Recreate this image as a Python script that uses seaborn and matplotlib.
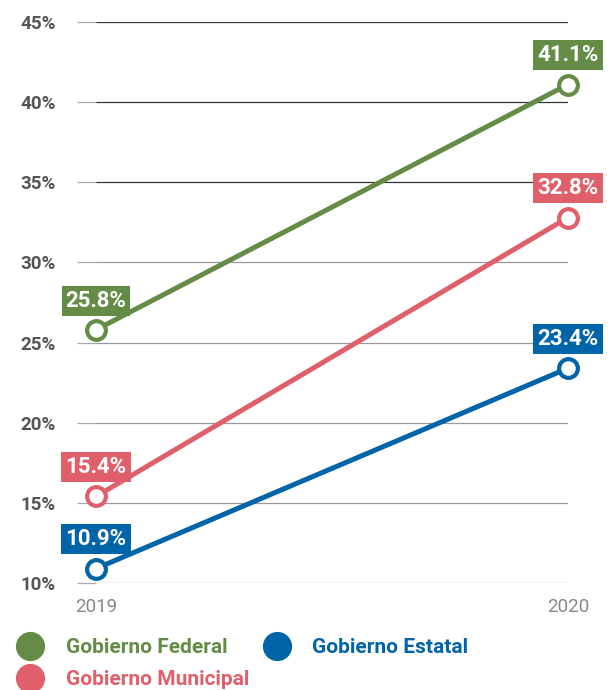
#!/usr/bin/env python3
'''
Line chart: share per level of government, 2019 vs 2020.
'''
import seaborn as sns
import matplotlib.pyplot as plt
import pandas as pd
from matplotlib.lines import Line2D

years = [2019, 2020]
series = ['Gobierno Federal', 'Gobierno Estatal', 'Gobierno Municipal']
federal = [25.8, 41.1]
estatal = [10.9, 23.4]
municipal = [15.4, 32.8]
colors = {'Gobierno Federal': '#648c46',
          'Gobierno Estatal': '#0064a8',
          'Gobierno Municipal': '#df5f6b'}
yticks = [10, 15, 20, 25, 30, 35, 40, 45]

sns.set_theme(style='white')
plt.rcParams['font.family'] = ['Roboto', 'DejaVu Sans']

df = pd.DataFrame({
    'year': years * 3,
    'value': federal + estatal + municipal,
    'serie': [s for s in series for _ in years],
})

fig = plt.figure(figsize=(6.13, 6.90), dpi=100)
ax = fig.add_axes([96 / 613, 1 - 583 / 690, (568 - 96) / 613, (583 - 22) / 690])

sns.lineplot(data=df, x='year', y='value', hue='serie', palette=colors,
             hue_order=['Gobierno Municipal', 'Gobierno Estatal', 'Gobierno Federal'],
             marker='o', markersize=13.5, markerfacecolor='white',
             markeredgewidth=3, linewidth=3.6, legend=False, ax=ax,
             clip_on=False, zorder=3)
for ln in ax.get_lines():
    ln.set_markeredgecolor(ln.get_color())

ax.set_xlim(2019, 2020)
ax.set_ylim(10, 45)
ax.set_xticks(years)
ax.set_xticklabels([str(y) for y in years])
ax.set_yticks(yticks)
ax.set_yticklabels([f'{v}%' for v in yticks])
ax.set_xlabel('')
ax.set_ylabel('')
for s in ax.spines.values():
    s.set_visible(False)

ax.grid(axis='y', color='#999999', linewidth=0.9)
for gl, v in zip(ax.get_ygridlines(), yticks):
    if v >= 35:
        gl.set_color('#333333')
ax.tick_params(axis='y', left=True, length=14, width=0.9, color='#aaaaaa',
               pad=15, labelsize=13.5, labelcolor='#555555')
ax.tick_params(axis='x', bottom=False, pad=5, labelsize=13.5,
               labelcolor='#888888')
for lbl in ax.get_yticklabels():
    lbl.set_fontweight('bold')

for name, vals in zip(series, [federal, estatal, municipal]):
    for x, v in zip(years, vals):
        ax.annotate(f'{v}%', xy=(x, v), xytext=(0, 21), textcoords='offset points',
                    ha='center', va='center', fontsize=16, fontweight='bold',
                    color='white', annotation_clip=False, zorder=5,
                    bbox=dict(boxstyle='square,pad=0.18', fc=colors[name], ec='none'))

handles = [Line2D([], [], marker='o', linestyle='none', markersize=20,
                  color=colors[s]) for s in ['Gobierno Federal', 'Gobierno Municipal',
                                              'Gobierno Estatal']]
labels = ['Gobierno Federal', 'Gobierno Municipal', 'Gobierno Estatal']
leg = fig.legend(handles, labels, loc='upper left', bbox_to_anchor=(0.01, 1 - 630 / 690),
                 ncol=2, frameon=False, fontsize=15, handlelength=1.5,
                 handletextpad=0.95, columnspacing=0.6, labelspacing=0.6,
                 borderaxespad=0.0)
for txt, lab in zip(leg.get_texts(), labels):
    txt.set_color(colors[lab])
    txt.set_fontweight('bold')

fig.savefig('out.png', dpi=100)
